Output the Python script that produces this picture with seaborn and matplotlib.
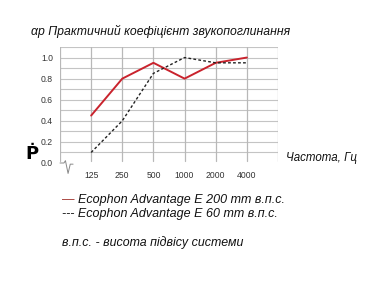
import matplotlib
matplotlib.use("Agg")
import matplotlib.pyplot as plt
import seaborn as sns
import pandas as pd

freqs = ["125", "250", "500", "1000", "2000", "4000"]
e200 = [0.45, 0.80, 0.95, 0.80, 0.95, 1.00]
e60 = [0.10, 0.40, 0.85, 1.00, 0.95, 0.95]
ytick_vals = [0.0, 0.2, 0.4, 0.6, 0.8, 1.0]
ytick_labels = ["0.0", "0.2", "0.4", "0.6", "0.8", "1.0"]

title = "αр Практичний коефіцієнт звукопоглинання"
xlabel = "Частота, Гц"
leg1 = "— Ecophon Advantage E 200 mm в.п.с."
leg2 = "--- Ecophon Advantage E 60 mm в.п.с."
note = "в.п.с. - висота підвісу системи"

sns.set_theme(style="white")
plt.rcParams["font.family"] = ["Liberation Sans", "DejaVu Sans"]

df = pd.DataFrame({"freq": freqs * 2,
                   "value": e200 + e60,
                   "series": ["E200"] * len(freqs) + ["E60"] * len(freqs)})

fig = plt.figure(figsize=(3.87, 2.95), dpi=100)
ax = fig.add_axes([60 / 387, 1 - 163 / 295, 218 / 387, 116 / 295])

sns.lineplot(data=df[df.series == "E200"], x="freq", y="value", ax=ax,
             color="#c9232d", lw=1.4, sort=False)
sns.lineplot(data=df[df.series == "E60"], x="freq", y="value", ax=ax,
             color="#222222", lw=1.0, linestyle=(0, (2, 1.6)), sort=False)

ax.set_xlim(-1, 6)
ax.set_ylim(0, 1.1)
for v in [i / 10 for i in range(1, 12)]:
    ax.axhline(v, color="#c4c4c4", lw=0.8, zorder=0)
for xv in range(-1, 7):
    ax.axvline(xv, ymin=0.02, color="#b8b8b8", lw=0.9, zorder=0)
for s in ax.spines.values():
    s.set_visible(False)

ax.set_yticks(ytick_vals)
ax.set_yticklabels(ytick_labels)
ax.tick_params(axis="y", length=0, pad=5, labelsize=6.2, labelcolor="#333333")
ax.tick_params(axis="x", length=0, pad=6, labelsize=6.2, labelcolor="#333333")
ax.set_xlabel("")
ax.set_ylabel("")

# axis break zigzag
ax.plot([0, 0.018, 0.025, 0.037, 0.047, 0.06], [0.0, 0.0, 0.02, -0.09, -0.01, -0.01],
        transform=ax.transAxes, color="#888888", lw=0.7, clip_on=False)

fig.text(31 / 387, 1 - 31 / 295, title, fontsize=8.85, style="italic",
         va="center", ha="left", color="#111111")
fig.text(286 / 387, 1 - 158 / 295, xlabel, fontsize=8.3, style="italic",
         va="center", ha="left", color="#111111")
fig.text(32 / 387, 1 - 154 / 295, "Ṗ", fontsize=13, fontweight="heavy",
         va="center", ha="center", color="#000000", family=["DejaVu Sans"])
fig.text(62 / 387, 1 - 200 / 295, "—", fontsize=9, color="#a0302a",
         va="center", ha="left")
fig.text(78 / 387, 1 - 200 / 295, leg1[2:], fontsize=9, style="italic",
         va="center", ha="left", color="#111111")
fig.text(62 / 387, 1 - 214 / 295, leg2, fontsize=9, style="italic",
         va="center", ha="left", color="#111111")
fig.text(62 / 387, 1 - 243 / 295, note, fontsize=8.9, style="italic",
         va="center", ha="left", color="#111111")

fig.savefig("out.png", dpi=100)
